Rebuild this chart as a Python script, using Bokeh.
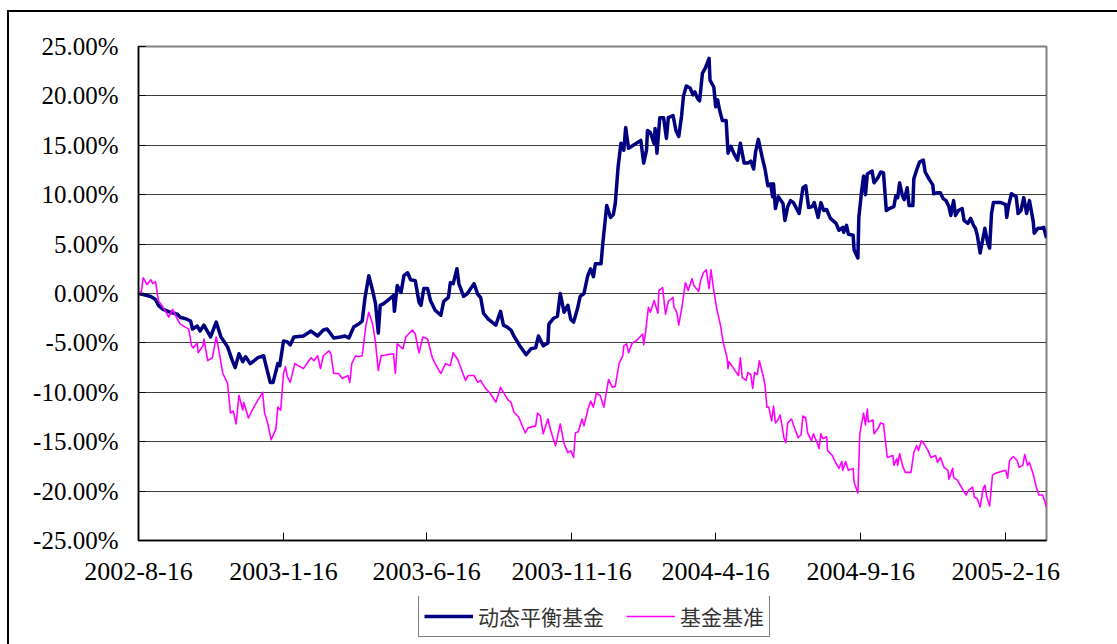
import pandas as pd
from bokeh.plotting import figure
from bokeh.layouts import column
from bokeh.models import Range1d, FixedTicker, PrintfTickFormatter, Legend, LegendItem
from bokeh.embed import file_html
from bokeh.resources import INLINE

# ---------------- data ----------------
start_date = "2002-08-16"
end_date = "2005-03-31"
tick_dates = ["2002-8-16", "2003-1-16", "2003-6-16", "2003-11-16",
              "2004-4-16", "2004-9-16", "2005-2-16"]
y_ticks = [-25, -20, -15, -10, -5, 0, 5, 10, 15, 20, 25]
series_names = ["动态平衡基金", "基金基准"]

# (days since start, cumulative return %)
fund = [(0,0.0),(5,-0.1),(13,-0.3),(18,-0.6),(21,-1.2),(26,-1.6),(34,-1.9),(41,-2.1),(44,-2.4),(51,-2.6),
        (55,-2.8),(57,-3.6),(62,-3.3),(65,-3.8),(69,-3.2),(76,-4.4),(82,-2.9),(87,-4.4),(94,-5.4),(99,-6.8),
        (102,-7.5),(106,-6.1),(110,-6.9),(113,-6.4),(118,-7.1),(126,-6.5),(132,-6.3),(134,-7.1),(139,-9.0),(142,-9.0),
        (147,-7.1),(149,-7.3),(153,-4.8),(157,-4.9),(160,-5.2),(164,-4.4),(174,-4.3),(182,-3.8),(189,-4.3),(195,-3.7),
        (199,-3.6),(206,-4.5),(213,-4.4),(218,-4.3),(222,-4.5),(227,-3.4),(232,-3.1),(236,-2.8),(239,-0.4),(243,1.8),
        (247,0.3),(250,-1.0),(253,-4.0),(255,-1.2),(259,-1.0),(263,-0.7),(269,-0.2),(270,-1.8),(273,0.8),(277,0.1),
        (280,1.8),(284,2.1),(287,1.4),(292,1.3),(296,-0.9),(298,-1.2),(301,0.5),(305,0.5),(308,-0.7),(313,-1.7),
        (319,-2.2),(322,-0.8),(327,-0.4),(329,1.1),(332,1.0),(336,2.5),(338,1.0),(343,-0.3),(347,0.0),(354,1.0),
        (358,-0.1),(361,-0.4),(364,-2.0),(369,-2.6),(377,-3.2),(382,-1.8),(385,-3.2),(389,-3.4),(393,-3.7),(396,-4.3),
        (403,-5.4),(409,-6.2),(414,-5.6),(419,-5.5),(422,-4.3),(427,-5.3),(432,-5.0),(433,-3.1),(438,-2.5),(442,-2.3),
        (445,0.0),(449,-1.9),(453,-1.2),(456,-2.6),(459,-2.9),(463,-1.6),(466,-0.3),(470,0.0),(474,1.8),(477,2.5),
        (480,1.7),(482,3.0),(488,3.0),(490,5.2),(494,8.9),(498,7.7),(501,8.0),(503,9.1),(506,12.8),(509,15.2),
        (512,14.5),(514,16.8),(517,14.7),(522,15.0),(530,15.5),(533,13.2),(536,14.5),(537,16.5),(540,16.3),(544,15.2),
        (545,16.7),(547,14.2),(550,17.8),(554,17.8),(557,15.7),(559,17.8),(564,18.0),(567,16.5),(570,15.9),(573,18.0),
        (575,20.0),(578,21.0),(582,20.8),(585,20.1),(587,20.4),(590,19.7),(592,19.5),(595,22.3),(598,22.8),(602,23.8),
        (603,21.6),(607,20.9),(609,18.9),(611,19.6),(613,18.6),(616,17.5),(620,17.5),(622,14.2),(625,14.9),(628,14.2),
        (632,13.5),(635,15.2),(639,13.2),(643,13.2),(646,13.4),(649,12.6),(651,14.3),(654,15.6),(658,13.8),(661,12.6),
        (664,10.9),(667,11.1),(669,9.8),(670,11.1),(672,8.6),(675,9.8),(680,9.1),(682,7.4),(685,8.8),(688,9.4),
        (691,9.2),(697,8.1),(701,10.7),(704,10.9),(707,8.7),(711,8.8),(713,9.2),(717,7.7),(720,9.2),(723,8.4),
        (726,8.5),(730,7.6),(736,7.1),(739,6.4),(743,6.7),(744,6.2),(747,6.9),(749,6.0),(754,5.9),(755,4.4),
        (759,3.6),(760,7.7),(763,10.4),(765,11.9),(767,10.0),(769,12.1),(774,12.4),(776,11.2),(780,11.7),(783,12.3),
        (786,12.2),(789,8.4),(792,8.6),(797,8.8),(799,9.9),(801,9.7),(803,11.2),(806,9.9),(808,9.5),(811,10.7),
        (813,8.9),(817,8.9),(818,11.6),(821,12.5),(824,13.3),(828,13.5),(830,12.3),(834,11.6),(838,11.0),(839,10.1),
        (843,10.2),(846,10.2),(849,9.6),(852,9.4),(855,8.8),(857,7.9),(860,9.4),(862,7.9),(865,8.4),(869,8.6),
        (871,7.4),(875,7.1),(878,7.6),(881,6.9),(883,6.6),(885,5.9),(888,4.1),(891,5.6),(893,6.6),(896,5.1),
        (898,4.6),(900,8.1),(902,9.2),(910,9.2),(915,9.0),(916,7.7),(918,8.9),(921,10.1),(926,9.8),(928,8.1),
        (931,8.4),(934,9.7),(937,8.1),(940,9.4),(944,7.3),(945,6.1),(949,6.6),(952,6.6),(955,6.7),(958,5.6)]

bench = [(0,0.0),(3,0.2),(5,1.6),(9,0.9),(13,1.4),(15,1.0),(18,1.2),(21,-0.7),(26,-1.4),(32,-2.4),
         (36,-1.6),(41,-2.6),(44,-3.1),(53,-3.6),(56,-5.3),(58,-5.5),(62,-5.0),(63,-6.0),(68,-5.3),(69,-4.6),
         (73,-6.8),(78,-6.5),(82,-4.4),(84,-5.3),(89,-8.1),(94,-9.1),(97,-12.1),(100,-11.9),(103,-13.2),(106,-10.3),
         (110,-11.8),(111,-11.0),(116,-12.6),(120,-11.8),(126,-10.8),(131,-10.0),(133,-12.1),(136,-13.0),(140,-14.8),(145,-13.7),
         (147,-11.5),(150,-11.8),(153,-8.1),(155,-7.4),(157,-8.4),(160,-9.0),(165,-7.1),(174,-7.6),(182,-6.5),(185,-6.8),
         (189,-6.3),(192,-7.6),(195,-6.3),(201,-5.8),(203,-6.1),(206,-8.1),(211,-8.1),(215,-8.6),(221,-8.3),(223,-9.0),
         (225,-7.1),(229,-6.3),(232,-6.4),(236,-6.3),(240,-3.2),(243,-1.9),(247,-3.1),(250,-4.9),(253,-7.8),(256,-6.3),
         (269,-6.1),(271,-8.1),(273,-5.1),(279,-5.6),(282,-4.4),(285,-4.1),(289,-3.7),(292,-4.1),(296,-6.0),(300,-4.4),
         (305,-4.6),(310,-6.5),(313,-7.1),(319,-8.1),(324,-7.1),(329,-7.3),(332,-6.0),(337,-6.7),(340,-7.5),(345,-8.8),
         (348,-8.3),(354,-8.3),(358,-9.0),(361,-8.8),(366,-9.6),(371,-10.1),(377,-11.0),(382,-9.5),(385,-10.0),(390,-10.8),
         (393,-11.0),(396,-12.0),(401,-12.5),(408,-14.1),(411,-13.6),(419,-13.4),(421,-12.1),(424,-12.4),(427,-14.2),(432,-12.7),
         (435,-13.9),(440,-15.4),(445,-13.2),(449,-15.2),(453,-16.1),(456,-15.9),(459,-16.6),(461,-14.1),(464,-14.0),(468,-12.7),
         (470,-13.4),(474,-11.8),(477,-10.9),(480,-11.5),(483,-10.1),(487,-10.3),(491,-11.5),(494,-9.8),(496,-8.7),(500,-9.5),
         (503,-9.4),(507,-7.1),(511,-6.3),(512,-5.3),(515,-5.1),(517,-6.0),(521,-5.0),(525,-4.8),(528,-4.5),(532,-4.1),
         (533,-5.2),(535,-3.9),(538,-1.4),(540,-1.9),(544,-0.7),(548,-2.0),(549,0.3),(553,0.6),(556,-2.1),(559,-0.8),
         (564,-0.4),(565,-1.4),(568,-1.9),(570,-3.2),(574,-1.0),(577,1.1),(580,0.3),(584,1.5),(586,0.8),(591,0.2),
         (593,1.3),(596,2.1),(599,2.4),(602,0.5),(604,2.4),(607,0.3),(610,-1.5),(614,-3.2),(617,-5.0),(621,-6.5),
         (622,-7.6),(623,-6.9),(628,-7.6),(633,-8.3),(635,-6.5),(637,-8.5),(641,-8.8),(643,-8.0),(646,-8.2),(648,-9.6),
         (650,-8.0),(653,-8.2),(655,-6.8),(659,-8.3),(661,-9.3),(663,-11.5),(665,-11.5),(668,-12.9),(670,-11.4),(672,-13.1),
         (674,-12.9),(677,-12.3),(679,-13.4),(681,-14.6),(683,-15.1),(685,-13.1),(689,-12.7),(691,-13.3),(696,-14.6),(699,-14.3),
         (701,-12.4),(704,-12.6),(706,-14.1),(710,-14.9),(712,-14.2),(716,-15.1),(718,-15.7),(720,-14.2),(722,-14.7),(726,-14.5),
         (727,-15.9),(732,-16.4),(736,-17.2),(739,-17.7),(742,-17.0),(743,-17.9),(746,-17.0),(749,-17.9),(754,-17.7),(755,-19.1),
         (759,-20.2),(761,-14.2),(765,-12.1),(767,-13.3),(769,-11.7),(770,-13.0),(775,-12.8),(776,-14.2),(780,-13.7),(783,-13.1),
         (786,-13.2),(790,-16.6),(796,-16.4),(797,-17.4),(800,-16.7),(801,-17.4),(803,-16.2),(806,-17.4),(809,-18.1),(815,-18.1),
         (818,-16.1),(821,-15.4),(823,-15.9),(826,-14.9),(828,-15.1),(833,-15.9),(836,-16.6),(841,-16.4),(843,-17.1),(846,-16.6),
         (850,-17.6),(854,-17.9),(855,-18.8),(859,-17.7),(860,-18.6),(864,-18.9),(870,-19.9),(873,-20.4),(876,-19.9),(880,-19.6),
         (882,-20.6),(885,-20.8),(888,-21.6),(891,-19.8),(893,-19.4),(895,-20.6),(898,-21.5),(901,-18.4),(904,-18.2),(915,-17.9),
         (917,-18.7),(919,-16.9),(923,-16.5),(927,-16.9),(929,-17.6),(933,-17.4),(935,-16.3),(938,-17.4),(940,-17.1),(944,-18.3),
         (947,-19.5),(950,-20.4),(954,-20.4),(958,-21.6)]

# ---------------- build ----------------
start = pd.Timestamp(start_date)
tick_days = [int((d - start).days) for d in pd.to_datetime(tick_dates, format="%Y-%m-%d")]
end_day = int((pd.Timestamp(end_date) - start).days)

fund_days, fund_vals = zip(*fund)
bench_days, bench_vals = zip(*bench)

fund_color, bench_color = "#000080", "#FF00FF"
fund_width, bench_width = 3.5, 1.6

p = figure(width=1108, height=584, output_backend="svg", toolbar_location=None,
           x_range=Range1d(0, end_day), y_range=Range1d(-25, 25),
           min_border_left=129, min_border_right=71, min_border_top=34, min_border_bottom=56)
p.background_fill_color = "white"
p.border_fill_color = "white"
p.outline_line_color = "#808080"
p.outline_line_width = 2

p.xgrid.visible = False
p.ygrid.grid_line_color = "#404040"
p.ygrid.grid_line_width = 1

tick_font = "Liberation Serif"
p.yaxis.ticker = FixedTicker(ticks=y_ticks)
p.yaxis.formatter = PrintfTickFormatter(format="%.2f%%")
p.xaxis.ticker = FixedTicker(ticks=tick_days)
p.xaxis.major_label_overrides = {d: lab for d, lab in zip(tick_days, tick_dates)}

for ax in (p.xaxis[0], p.yaxis[0]):
    ax.axis_line_color = "black"
    ax.axis_line_width = 1.5
    ax.major_tick_line_color = "black"
    ax.major_tick_out = 0
    ax.minor_tick_in = 0
    ax.minor_tick_out = 0
    ax.major_label_text_font = tick_font
    ax.major_label_text_color = "black"
p.yaxis.major_label_text_font_size = "25px"
p.xaxis.major_label_text_font_size = "26px"
p.yaxis.major_tick_in = 7
p.xaxis.major_tick_in = 8
p.yaxis.major_label_standoff = 20
p.xaxis.major_label_standoff = 22

p.line(list(fund_days), list(fund_vals), line_color=fund_color, line_width=fund_width, line_join="round")
p.line(list(bench_days), list(bench_vals), line_color=bench_color, line_width=bench_width, line_join="round")

# legend strip below the chart (its series lie outside its visible y-range)
q = figure(width=1108, height=48, output_backend="svg", toolbar_location=None,
           x_axis_location=None, y_axis_location=None,
           min_border_left=129, min_border_right=71, min_border_top=0, min_border_bottom=0,
           x_range=Range1d(0, end_day), y_range=Range1d(100, 101))
q.grid.visible = False
q.outline_line_color = None
q.background_fill_color = "white"
q.border_fill_color = "white"
l1 = q.line(list(fund_days), list(fund_vals), line_color=fund_color, line_width=fund_width)
l2 = q.line(list(bench_days), list(bench_vals), line_color=bench_color, line_width=bench_width)
legend = Legend(items=[LegendItem(label=series_names[0], renderers=[l1]),
                       LegendItem(label=series_names[1], renderers=[l2])],
                orientation="horizontal", location=(280, 7),
                border_line_color="black", border_line_width=1,
                padding=5, spacing=22, margin=0,
                glyph_width=49, glyph_height=20, label_standoff=5,
                label_text_font="Noto Sans CJK SC", label_text_font_size="21px",
                label_text_color="#333333", background_fill_color="white")
q.add_layout(legend)

layout = column(p, q, spacing=0)
layout.styles = {"margin-left": "7px", "margin-top": "10px",
                 "border-top": "2px solid black", "border-left": "2px solid black"}

open("out.html", "w").write(file_html(layout, INLINE))
